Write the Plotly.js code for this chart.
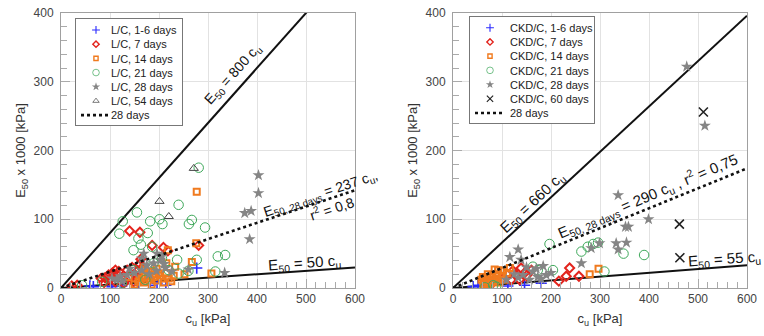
<!DOCTYPE html>
<html><head><meta charset="utf-8">
<script src="https://cdn.plot.ly/plotly-3.0.1.min.js"></script>
<style>html,body{margin:0;padding:0;background:#fff}#chart{width:764px;height:336px}</style>
</head><body><div id="chart"></div>
<script>
// ---- Left panel: L/C ----
var lc1_x = [277,182,196,214,59,66,124,104,158];
var lc1_y = [29,4,7,4,3,2,3,2,4];
var lc7_x = [140,161,186,209,218,281,163,161,135,111,90,82,97,114,124,141,148,128,111,22,33,165,150,105,118,100,145,155,170,88];
var lc7_y = [83,81,62,59,54,62,42,35,26,26,15,14,19,19,14,16,9,7,9,3,4,29,20,22,24,12,30,12,18,8];
var lc14_x = [277,276,267,252,307,218,215,169,179,189,199,206,165,158,175,196,220,186,138,233,150,185,210,230,170,160,172,182,192,202,215,225,195,178,168];
var lc14_y = [140,65,38,20,21,55,36,26,19,16,21,14,14,9,9,11,14,24,16,31,5,5,8,18,30,12,18,12,20,18,22,10,28,24,8];
var lc21_x = [281,240,155,126,182,201,207,267,261,294,119,177,158,163,148,186,237,277,320,335,315,260,206,189,148,220,240,172,124,84,43];
var lc21_y = [175,121,110,97,97,100,93,99,93,88,79,80,72,63,55,60,41,41,46,48,24,25,43,36,26,26,21,12,7,9,4];
var lc28_x = [403,403,375,388,385,334,260,169,196,203,206,175,189,165,135,121,104,114,213,226,165,150,180,195,210,140,125];
var lc28_y = [164,138,109,112,71,22,27,50,50,41,46,33,36,26,19,17,14,12,29,24,43,22,20,25,35,28,10];
var lc54_x = [271,201,220];
var lc54_y = [174,126,104];
// ---- Right panel: CKD/C ----
var ckd1_x = [180,146,112,82,51,61,41];
var ckd1_y = [7,4,3,4,4,3,2];
var ckd7_x = [238,231,257,216,139,122,112,129,146,102,119,136,160,150];
var ckd7_y = [29,17,17,10,29,25,19,19,22,14,12,12,26,18];
var ckd14_x = [297,279,85,102,116,75,68,82,65,78,88,71,58,95,61,85,71,70,80,90,75,95,100,62,105,110,92];
var ckd14_y = [28,20,27,25,29,16,13,12,9,7,14,20,12,12,16,9,8,10,18,20,5,8,18,6,12,22,26];
var ckd21_x = [197,262,275,286,296,348,390,204,309,163,173,82,65,88];
var ckd21_y = [64,53,60,64,66,50,48,26,24,31,26,4,1,2];
var ckd28_x = [477,514,337,352,358,399,333,337,354,299,282,262,184,133,116,139,163,173,143,190,156,133,109,180,150,170,200,125];
var ckd28_y = [322,236,135,89,89,100,65,56,66,65,58,36,32,56,45,41,24,16,19,19,12,15,12,13,30,28,22,20];
var ckd60_x = [511,462,463];
var ckd60_y = [256,93,44];
// bounding / fitted lines: E50 = k * cu  (E50 plotted in kPa x 1000)
var lineX = [0,600];
var left_k = [800,50];   var left_fit28 = 237;
var right_k = [660,55];  var right_fit28 = 290;

var C = {blue:'#2b2bff', red:'#e3241d', orange:'#f07a1e', green:'#3ea85a', gray:'#858585', tri:'#444', x:'#222'};
function yk(k){ return lineX.map(function(v){ return v*k/1000; }); }

function sc(x,y,name,sym,color,size,lw,xa,ya,leg){
  var m = {symbol:sym,size:size,color:color,line:{color:color,width:lw}};
  return {type:'scatter',mode:'markers',x:x,y:y,name:name,marker:m,xaxis:xa,yaxis:ya,legend:leg,hoverinfo:'skip'};
}
function ln(k,xa,ya,dash,name,show,leg){
  return {type:'scatter',mode:'lines',x:lineX,y:yk(k),name:name,showlegend:show,legend:leg,
    line:{color:'#111',width:dash?2.6:2,dash:dash||'solid'},xaxis:xa,yaxis:ya,hoverinfo:'skip'};
}

var data = [
  ln(left_k[0],'x','y',null,'',false,'legend'),
  ln(left_k[1],'x','y',null,'',false,'legend'),
  sc(lc1_x,lc1_y,'L/C, 1-6 days','cross-thin-open',C.blue,8,1.6,'x','y','legend'),
  sc(lc7_x,lc7_y,'L/C, 7 days','diamond-open',C.red,7,2,'x','y','legend'),
  sc(lc14_x,lc14_y,'L/C, 14 days','square-open',C.orange,6,2,'x','y','legend'),
  sc(lc21_x,lc21_y,'L/C, 21 days','circle-open',C.green,9.5,1,'x','y','legend'),
  sc(lc28_x,lc28_y,'L/C, 28 days','star',C.gray,9,0,'x','y','legend'),
  sc(lc54_x,lc54_y,'L/C, 54 days','triangle-up-open',C.tri,8,1,'x','y','legend'),
  ln(left_fit28,'x','y','dot','28 days',true,'legend'),

  ln(right_k[0],'x2','y2',null,'',false,'legend2'),
  ln(right_k[1],'x2','y2',null,'',false,'legend2'),
  sc(ckd1_x,ckd1_y,'CKD/C, 1-6 days','cross-thin-open',C.blue,8,1.6,'x2','y2','legend2'),
  sc(ckd7_x,ckd7_y,'CKD/C, 7 days','diamond-open',C.red,7,2,'x2','y2','legend2'),
  sc(ckd14_x,ckd14_y,'CKD/C, 14 days','square-open',C.orange,6,2,'x2','y2','legend2'),
  sc(ckd21_x,ckd21_y,'CKD/C, 21 days','circle-open',C.green,9.5,1,'x2','y2','legend2'),
  sc(ckd28_x,ckd28_y,'CKD/C, 28 days','star',C.gray,9,0,'x2','y2','legend2'),
  sc(ckd60_x,ckd60_y,'CKD/C, 60 days','x-thin-open',C.x,9,1.6,'x2','y2','legend2'),
  ln(right_fit28,'x2','y2','dot','28 days',true,'legend2')
];

function xax(dom,anchor){
  return {domain:dom,anchor:anchor,range:[0,600],tick0:0,dtick:100,showgrid:true,gridcolor:'#e2e2e2',
    zeroline:false,showline:true,mirror:true,linecolor:'#a0a0a0',linewidth:1,
    ticks:'inside',ticklen:9,tickcolor:'#aaa',
    minor:{tick0:0,dtick:20,ticks:'inside',ticklen:6,tickcolor:'#aaa',showgrid:false},
    tickfont:{family:'Liberation Sans, Arial',size:12,color:'#444'},
    title:{text:'c<sub>u</sub> [kPa]',font:{family:'Liberation Sans, Arial',size:13,color:'#333'},standoff:8}};
}
function yax(anchor){
  return {domain:[0,1],anchor:anchor,range:[0,400],tick0:0,dtick:100,showgrid:true,gridcolor:'#e2e2e2',
    zeroline:false,showline:true,mirror:true,linecolor:'#a0a0a0',linewidth:1,
    ticks:'inside',ticklen:9,tickcolor:'#aaa',ticklabelstandoff:4,
    minor:{tick0:0,dtick:20,ticks:'inside',ticklen:6,tickcolor:'#aaa',showgrid:false},
    tickfont:{family:'Liberation Sans, Arial',size:12,color:'#444'},
    title:{text:'E<sub>50</sub> x 1000 [kPa]',font:{family:'Liberation Sans, Arial',size:13,color:'#333'}}};
}
function ann(x,y,xr,yr,text,ang,size){
  return {x:x,y:y,xref:xr,yref:yr,text:text,textangle:ang,showarrow:false,xanchor:'center',yanchor:'middle',
    font:{family:'Liberation Sans, Arial',size:size,color:'#111'}};
}
var legStyle = {bgcolor:'#fff',bordercolor:'#777',borderwidth:1,xanchor:'left',yanchor:'top',
  font:{family:'Liberation Sans, Arial',size:11,color:'#222'},tracegroupgap:0,itemwidth:30};

var layout = {
  width:764,height:336,margin:{l:0,r:0,t:13,b:48},paper_bgcolor:'#fff',plot_bgcolor:'#fff',
  font:{family:'Liberation Sans, Arial'},
  xaxis:xax([61/764,355/764],'y'), yaxis:yax('x'),
  xaxis2:xax([453/764,747/764],'y2'), yaxis2:yax('x2'),
  legend:Object.assign({x:75/764,y:0.982},legStyle),
  legend2:Object.assign({x:469/764,y:0.99},legStyle),
  annotations:[
    ann(352,311,'x','y','E<sub>50</sub> = 800 c<sub>u</sub>',-48,14),
    ann(531,137,'x','y','E<sub>50, 28 days</sub> = 237 c<sub>u</sub>,',-18.5,14),
    ann(553,116,'x','y','r<sup>2</sup> = 0,8',-18.5,14),
    ann(496,36,'x','y','E<sub>50</sub> = 50 c<sub>u</sub>',-4,15),
    ann(163,124,'x2','y2','E<sub>50</sub> = 660 c<sub>u</sub>',-43,15),
    ann(398,134,'x2','y2','E<sub>50, 28 days</sub> = 290 c<sub>u</sub> , r<sup>2</sup> = 0,75',-23,15),
    ann(555,41,'x2','y2','E<sub>50</sub> = 55 c<sub>u</sub>',-4,15)
  ]
};

// compact the legend rows (reference uses ~14 px row spacing) and use smaller legend symbols
function compactLegends(gd){
  ['legend','legend2'].forEach(function(id){
    var g = gd.querySelector('g.'+id);
    if(!g) return;
    var items = g.querySelectorAll('g.traces');
    if(!items.length) return;
    var step = 14.2, y0 = 12, shift = 5;
    items.forEach(function(t,i){
      var tr = t.getAttribute('transform') || '';
      var m = /translate\(\s*([-\d.e]+)[\s,]+([-\d.e]+)\s*\)/.exec(tr);
      var x = m ? parseFloat(m[1]) : 0;
      t.setAttribute('transform','translate('+x+','+(y0+i*step)+')');
      var txt = t.querySelector('text.legendtext');
      if(txt){ var tx = parseFloat(txt.getAttribute('x')||'40'); txt.setAttribute('x', tx-shift); }
      t.querySelectorAll('g.legendpoints path.scatterpts').forEach(function(p){
        var pt = p.getAttribute('transform') || 'translate(20,0)';
        p.setAttribute('transform', pt + ' scale(0.7)');
      });
    });
    var bg = g.querySelector('rect.bg');
    if(bg){
      bg.setAttribute('height', y0 + (items.length-1)*step + 10);
      var w = parseFloat(bg.getAttribute('width')||'0');
      if(w) bg.setAttribute('width', w-shift);
    }
  });
}
Plotly.newPlot('chart',data,layout,{staticPlot:true,displayModeBar:false}).then(compactLegends);
</script></body></html>
